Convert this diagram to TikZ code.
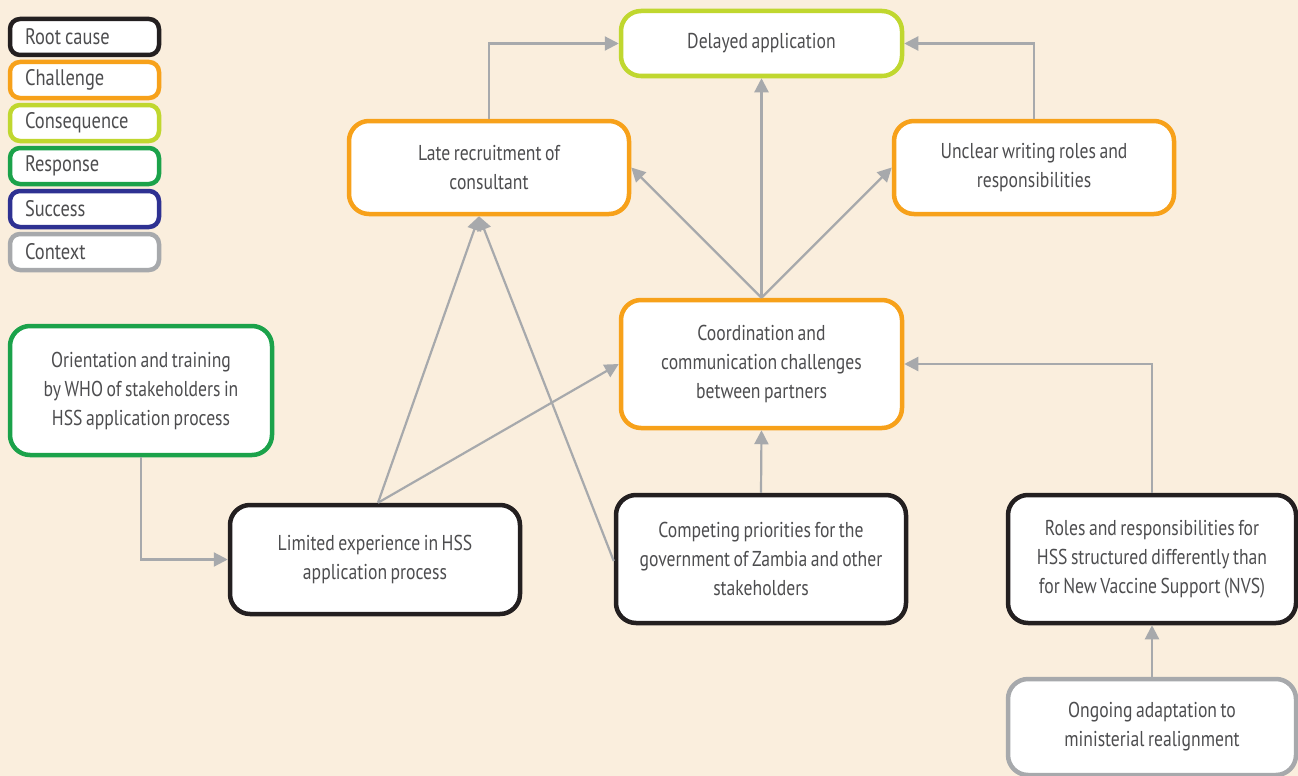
\documentclass[tikz,border=0pt]{standalone}
\usepackage{fontspec}
\setmainfont[FakeStretch=0.82,WordSpace=0.75]{PT Sans}
\usetikzlibrary{arrows.meta}
\definecolor{bg}{HTML}{FAEEDD}
\definecolor{cOrange}{HTML}{F7A11A}
\definecolor{cLime}{HTML}{C0D72F}
\definecolor{cGreen}{HTML}{1BA24A}
\definecolor{cNavy}{HTML}{2E3192}
\definecolor{cGrey}{HTML}{A7A9AC}
\definecolor{cBlack}{HTML}{231F20}
\definecolor{cText}{HTML}{4D4D4F}
\definecolor{cArrow}{HTML}{A7A9AC}
\tikzset{
  box/.style={draw, fill=white, line width=4.5pt, rounded corners=20pt, align=center,
    text=cText, font=\fontsize{21.5}{29}\selectfont, inner sep=0pt},
  legbox/.style={draw, fill=white, line width=4.5pt, rounded corners=10pt,
    minimum width=149pt, minimum height=36pt, text width=119pt, align=left,
    text=cText, font=\fontsize{22.5}{24}\selectfont, inner sep=0pt},
  conn/.style={draw=cArrow, line width=2.2pt, -{Triangle[length=14pt,width=14pt]}},
}
\begin{document}
\begin{tikzpicture}[x=1pt,y=-1pt]
\useasboundingbox (0,0) rectangle (1298,776);
\clip (0,0) rectangle (1298,776);
\fill[bg] (0,0) rectangle (1298,776);

% legend
\node[legbox, draw=cBlack] (lg1) at (84.5,37) {Root\hspace{4pt}cause};
\node[legbox, draw=cOrange] (lg2) at (84.5,80) {Challenge};
\node[legbox, draw=cLime] (lg3) at (84.5,123) {Consequence};
\node[legbox, draw=cGreen] (lg4) at (84.5,166) {Response};
\node[legbox, draw=cNavy] (lg5) at (84.5,209) {Success};
\node[legbox, draw=cGrey] (lg6) at (84.5,252) {Context};

% main nodes
\node[box, draw=cLime, minimum width=281pt, minimum height=65pt] (delayed) at (761.5,43.5) {Delayed application};
\node[box, draw=cOrange, minimum width=280pt, minimum height=93pt] (late) at (489,167.5) {Late recruitment of\\consultant};
\node[box, draw=cOrange, minimum width=280pt, minimum height=93pt] (unclear) at (1034,167.5) {Unclear writing roles and\\responsibilities};
\node[box, draw=cOrange, minimum width=281pt, minimum height=128pt] (coord) at (761.5,364) {Coordination and\\communication challenges\\between partners};
\node[box, draw=cGreen, minimum width=262pt, minimum height=129pt] (orient) at (141,390.5) {Orientation and training\\by WHO of stakeholders in\\HSS application process};
\node[box, draw=cBlack, minimum width=290pt, minimum height=109pt] (limited) at (375,559.5) {Limited experience in HSS\\application process};
\node[box, draw=cBlack, minimum width=290pt, minimum height=128pt] (compete) at (761,559) {Competing priorities for the\\government of Zambia and other\\stakeholders};
\node[box, draw=cBlack, minimum width=288pt, minimum height=128pt] (roles) at (1152,559) {Roles and responsibilities for\\HSS structured differently than\\for New Vaccine Support (NVS)};
\node[box, draw=cGrey, minimum width=288pt, minimum height=96pt] (ongoing) at (1152,727) {Ongoing adaptation to\\ministerial realignment};

\coordinate (lateIn) at ([xshift=-10pt]late.south);

% connectors
\draw[conn] (late.north) |- (delayed.west);
\draw[conn] (unclear.north) |- (delayed.east);
\draw[conn] (coord.north) -- (delayed.south);
\draw[conn] (coord.north) -- (late.east);
\draw[conn] (coord.north) -- (unclear.west);
\draw[conn] (orient.south) |- (limited.west);
\draw[conn] ([xshift=3pt]limited.north) -- (lateIn);
\draw[conn] ([xshift=3pt]limited.north) -- (coord.west);
\draw[conn] ([yshift=-2pt]compete.west) -- (lateIn);
\draw[conn] (compete.north) -- (coord.south);
\draw[conn] (roles.north) |- (coord.east);
\draw[conn] (ongoing.north) -- (roles.south);
\end{tikzpicture}
\end{document}
